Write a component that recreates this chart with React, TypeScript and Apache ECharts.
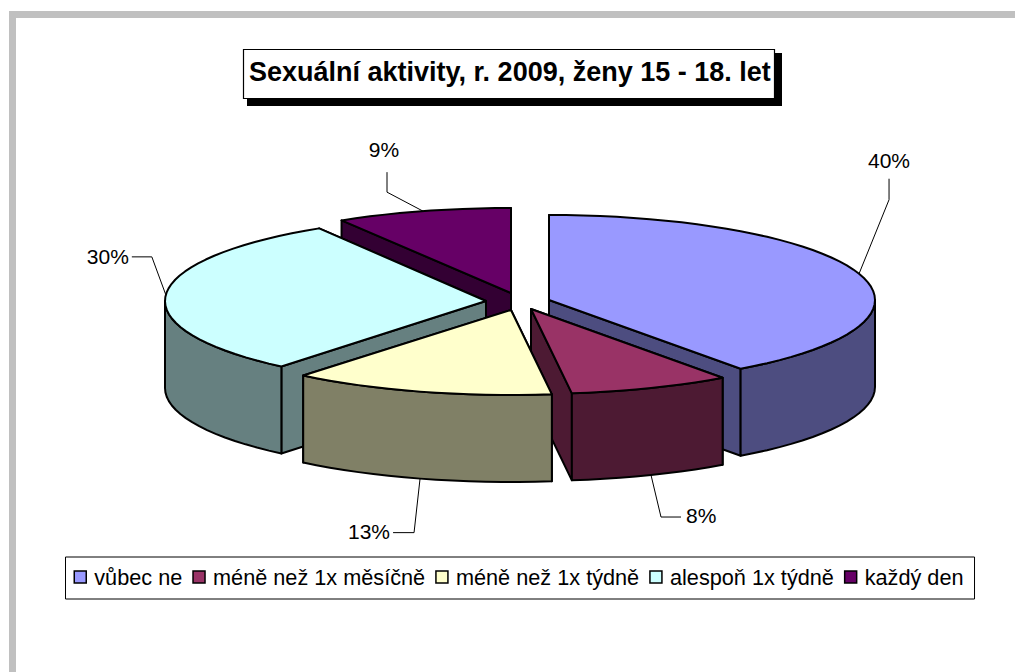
import React, { useEffect, useRef } from "react";
import * as echarts from "echarts";

const titleText = "Sexuální aktivity, r. 2009, ženy 15 - 18. let";
const categories = ["vůbec ne", "méně než 1x měsíčně", "méně než 1x týdně", "alespoň 1x týdně", "každý den"];
const values = [40, 8, 13, 30.3, 8.7];
const topColors = ["#9999FF", "#993366", "#FFFFCC", "#CCFFFF", "#660066"];
const wallColors = ["#4D4D80", "#4D1A33", "#808066", "#668080", "#330033"];
// apex of each exploded slice on the top face
const apexes = [[549, 300], [531, 309], [511, 310], [486, 301], [511, 293]];
const radiiX = [326, 326, 326, 321, 326];
// leader elbows and label positions, relative to the slice's rim anchor
const leaders = [
  { mid: [30, -74], end: [30, -95], text: [30, -113], align: "center" },
  { mid: [10, 42], end: [30, 42], text: [35, 40], align: "left" },
  { mid: [-6, 54], end: [-27, 54], text: [-30, 53], align: "right" },
  { mid: [-14, -38], end: [-34, -38], text: [-37, -38], align: "right" },
  { mid: [-36, -19], end: [-36, -39], text: [-39, -62], align: "center" },
];
const drawOrder = [4, 3, 0, 1, 2];
const RY = 85;
const DEPTH = 87;
const total = values.reduce((a, b) => a + b, 0);

function startAngle(i: number) {
  let sum = 0;
  for (let k = 0; k < i; k++) sum += values[k];
  return (sum / total) * 360;
}

function rim(i: number, deg: number): number[] {
  const r = (deg * Math.PI) / 180;
  return [apexes[i][0] + radiiX[i] * Math.sin(r), apexes[i][1] - RY * Math.cos(r)];
}

function arc(i: number, a: number, b: number): number[][] {
  const pts: number[][] = [];
  const n = Math.max(1, Math.ceil((b - a) / 3));
  for (let k = 0; k <= n; k++) pts.push(rim(i, a + ((b - a) * k) / n));
  return pts;
}

const down = (p: number[]) => [p[0], p[1] + DEPTH];

function sliceShapes(i: number) {
  const a = startAngle(i);
  const b = a + (values[i] / total) * 360;
  const apex = apexes[i];
  const poly = (points: number[][], fill: string) => ({
    type: "polygon",
    shape: { points },
    style: { fill, stroke: "#000", lineWidth: 2, lineJoin: "round" },
  });
  const children: any[] = [];
  const pa = rim(i, a);
  const pb = rim(i, b);
  // back wall first, so that it never shows through the visible one
  const walls = pa[1] < pb[1] ? [pa, pb] : [pb, pa];
  walls.forEach((p) => children.push(poly([apex, p, down(p), down(apex)], wallColors[i])));
  const fa = Math.max(a, 90);
  const fb = Math.min(b, 270);
  if (fb > fa) {
    const front = arc(i, fa, fb);
    children.push(poly([...front, ...front.map(down).reverse()], wallColors[i]));
  }
  children.push(poly([apex, ...arc(i, a, b)], topColors[i]));

  const midAngle = (a + b) / 2;
  const anchorTop = rim(i, midAngle);
  const isFront = midAngle > 90 && midAngle < 270;
  const anchor = isFront ? down(anchorTop) : anchorTop;
  const l = leaders[i];
  const at = (o: number[]) => [anchor[0] + o[0], anchor[1] + o[1]];
  children.push({
    type: "polyline",
    shape: { points: [anchor, at(l.mid), at(l.end)] },
    style: { fill: "none", stroke: "#000", lineWidth: 1 },
  });
  const t = at(l.text);
  children.push({
    type: "text",
    style: {
      text: `${Math.round((values[i] / total) * 100)}%`,
      x: t[0],
      y: t[1],
      fill: "#000",
      font: "21px 'Liberation Sans', Arial, sans-serif",
      textAlign: l.align,
      textVerticalAlign: "middle",
    },
  });
  return { type: "group", children };
}

export default function App() {
  const ref = useRef<HTMLDivElement>(null);
  useEffect(() => {
    document.body.style.margin = "0";
    const chart = echarts.init(ref.current!, undefined, { renderer: "svg" });
    chart.setOption({
      animation: false,
      backgroundColor: "#fff",
      graphic: [
        { type: "rect", shape: { x: 9, y: 11, width: 1006, height: 7 }, style: { fill: "#C0C0C0" } },
        { type: "rect", shape: { x: 9, y: 11, width: 7, height: 661 }, style: { fill: "#C0C0C0" } },
        { type: "rect", shape: { x: 247, y: 53, width: 535, height: 53 }, style: { fill: "#000" } },
      ],
      title: {
        text: titleText,
        left: 243,
        top: 49,
        padding: [9, 4, 14, 6],
        backgroundColor: "#fff",
        borderColor: "#000",
        borderWidth: 1.2,
        textStyle: { fontFamily: "'Liberation Sans', Arial, sans-serif", fontWeight: "bold", fontSize: 27, color: "#000" },
      },
      legend: {
        left: 65.5,
        top: 557,
        orient: "horizontal",
        padding: [9, 11, 11, 8],
        itemGap: 10,
        itemWidth: 12,
        itemHeight: 12,
        icon: "rect",
        borderColor: "#000",
        borderWidth: 1,
        backgroundColor: "#fff",
        selectedMode: false,
        textStyle: { fontFamily: "'Liberation Sans', Arial, sans-serif", fontSize: 21.7, color: "#000", padding: [0, 0, 0, 3] },
        itemStyle: { borderColor: "#000", borderWidth: 1.5 },
        data: categories,
      },
      series: drawOrder.map((i, order) => ({
        type: "custom",
        name: categories[i],
        coordinateSystem: "none",
        silent: true,
        z: order + 2,
        itemStyle: { color: topColors[i], borderColor: "#000", borderWidth: 1.5 },
        data: [[values[i]]],
        renderItem: () => sliceShapes(i),
      })),
    });
    return () => chart.dispose();
  }, []);
  return <div ref={ref} style={{ width: 1015, height: 672 }} />;
}
